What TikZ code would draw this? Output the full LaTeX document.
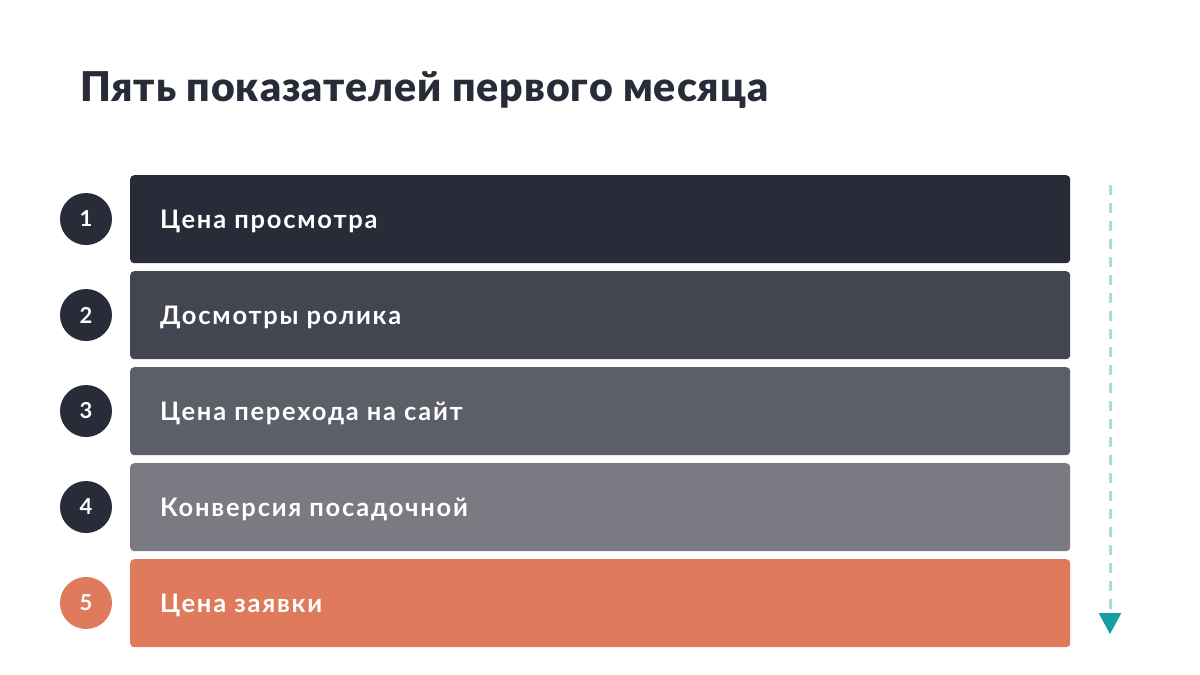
\documentclass[tikz,border=0pt]{standalone}
\usepackage{fontspec}
\setmainfont{Lato}
\newfontfamily\titlefont{Lato}[UprightFont=* Black, LetterSpace=2.3]
\newfontfamily\barfont{Lato}[LetterSpace=7]
\usetikzlibrary{arrows.meta}
\definecolor{c1}{HTML}{282C38}
\definecolor{c2}{HTML}{434550}
\definecolor{c3}{HTML}{5C5E68}
\definecolor{c4}{HTML}{797A82}
\definecolor{c5}{HTML}{E07A5C}
\definecolor{dashc}{HTML}{A8DDE0}
\definecolor{tipc}{HTML}{169FA0}
\tikzset{
  bar/.style={rounded corners=4pt, minimum width=940pt, minimum height=88pt, inner sep=0pt, anchor=north west},
  bartext/.style={text=white, font=\barfont\fontsize{25.5}{30}\selectfont\bfseries, anchor=base west, inner sep=0pt},
  num/.style={circle, minimum size=52pt, inner sep=0pt, text=white, font=\fontsize{22}{24}\selectfont\bfseries},
}
\begin{document}
\begin{tikzpicture}[x=1pt,y=-1pt]
\useasboundingbox (0,0) rectangle (1200,675);
\fill[white] (0,0) rectangle (1200,675);
\node[anchor=base west, inner sep=0pt, text=c1, font=\titlefont\fontsize{41}{46}\selectfont] (title) at (80,101) {Пять показателей первого месяца};
\foreach \i/\c/\t in {1/c1/Цена просмотра, 2/c2/Досмотры ролика, 3/c3/Цена перехода на сайт, 4/c4/Конверсия посадочной, 5/c5/Цена заявки}{
  \node[bar, fill=\c] (bar\i) at (130,{175+96*(\i-1)}) {};
  \node[bartext] (lab\i) at (160,{228.5+96*(\i-1)}) {\t};
}
\foreach \i/\c in {1/c1,2/c1,3/c1,4/c1,5/c5}{
  \node[num, fill=\c] (n\i) at (86,{219+96*(\i-1)}) {\i};
}
\coordinate (atop) at (1110,185);
\coordinate (abot) at (1110,634);
\draw[dashc, line width=3pt, dash pattern=on 10pt off 8pt, -{Triangle[width=22pt,length=21pt,color=tipc]}] (atop) -- (abot);
\end{tikzpicture}
\end{document}
